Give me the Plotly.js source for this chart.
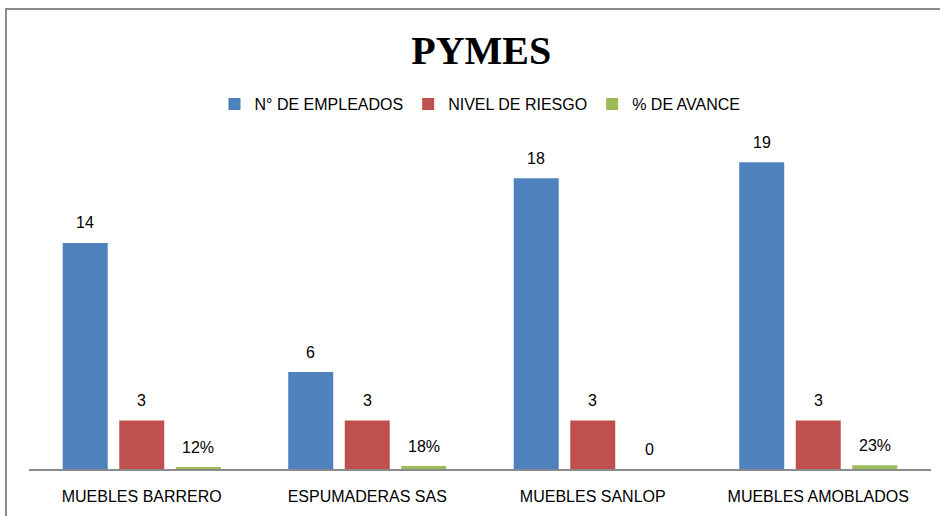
<!DOCTYPE html>
<html>
<head>
<meta charset="utf-8">
<script src="https://cdn.plot.ly/plotly-3.0.1.min.js"></script>
<style>
html,body{margin:0;padding:0;background:#fff;}
#chart{width:940px;height:516px;}
</style>
</head>
<body>
<div id="chart"></div>
<script>
var categories = ["MUEBLES BARRERO", "ESPUMADERAS SAS", "MUEBLES SANLOP", "MUEBLES AMOBLADOS"];
var empleados = [14, 6, 18, 19];
var riesgo = [3, 3, 3, 3];
var avance = [0.12, 0.18, 0, 0.23];
var seriesNames = ["N° DE EMPLEADOS", "NIVEL DE RIESGO", "% DE AVANCE"];

var colors = ["#4F81BD", "#C0504D", "#9BBB59"];
var fontFam = "Liberation Sans, Arial, sans-serif";

var L = 29, R = 9, T = 146, B = 47, W = 940, H = 516;
var plotW = W - L - R, plotH = H - T - B;
var bargap = 0.248, bargroupgap = 0.204;

function fmtNum(v){ return String(v); }
function fmtPct(v){ return v === 0 ? "0" : Math.round(v * 100) + "%"; }

var series = [empleados, riesgo, avance];
var fmts = [fmtNum, fmtNum, fmtPct];

var traces = series.map(function(vals, i){
  return {
    type: "bar",
    name: seriesNames[i],
    x: categories,
    y: vals,
    marker: {color: colors[i]},
    hoverinfo: "skip"
  };
});

var catW = plotW / categories.length;
var slot = catW * (1 - bargap) / series.length;
var annotations = [];
series.forEach(function(vals, i){
  vals.forEach(function(v, j){
    annotations.push({
      x: categories[j], y: v, xref: "x", yref: "y",
      text: fmts[i](v), showarrow: false,
      xanchor: "center", yanchor: "middle",
      xshift: (i - 1) * slot, yshift: 20,
      font: {family: fontFam, size: 16, color: "#000"}
    });
  });
});

var layout = {
  width: W, height: H,
  margin: {l: L, r: R, t: T, b: B, pad: 0},
  paper_bgcolor: "#fff", plot_bgcolor: "#fff",
  barmode: "group", bargap: bargap, bargroupgap: bargroupgap,
  title: {
    text: "<b>PYMES</b>",
    font: {family: "Liberation Serif, Times New Roman, serif", size: 40, color: "#000"},
    x: 0.512, xanchor: "center", y: 1 - 50 / H, yanchor: "middle"
  },
  showlegend: true,
  legend: {
    orientation: "h", x: 0.5, xanchor: "center",
    y: (H - B - 104) / plotH, yanchor: "middle",
    font: {family: fontFam, size: 16, color: "#000"},
    traceorder: "normal", itemclick: false
  },
  xaxis: {
    type: "category", showline: true, linecolor: "#8a8a8a", linewidth: 1.5,
    showgrid: false, zeroline: false, ticks: "",
    ticklabelstandoff: 12,
    tickfont: {family: fontFam, size: 16, color: "#000"},
    automargin: false, fixedrange: true
  },
  yaxis: {
    range: [0, 20], visible: false, showgrid: false, zeroline: false,
    automargin: false, fixedrange: true
  },
  annotations: annotations,
  shapes: [{
    type: "rect", xref: "paper", yref: "paper", layer: "above",
    x0: (6 - L) / plotW, x1: (W + 10 - L) / plotW,
    y0: -(B + 10) / plotH, y1: (H - B - 9) / plotH,
    line: {color: "#8c8c8c", width: 2}, fillcolor: "rgba(0,0,0,0)"
  }]
};

Plotly.newPlot("chart", traces, layout, {displayModeBar: false, staticPlot: true});
</script>
</body>
</html>
